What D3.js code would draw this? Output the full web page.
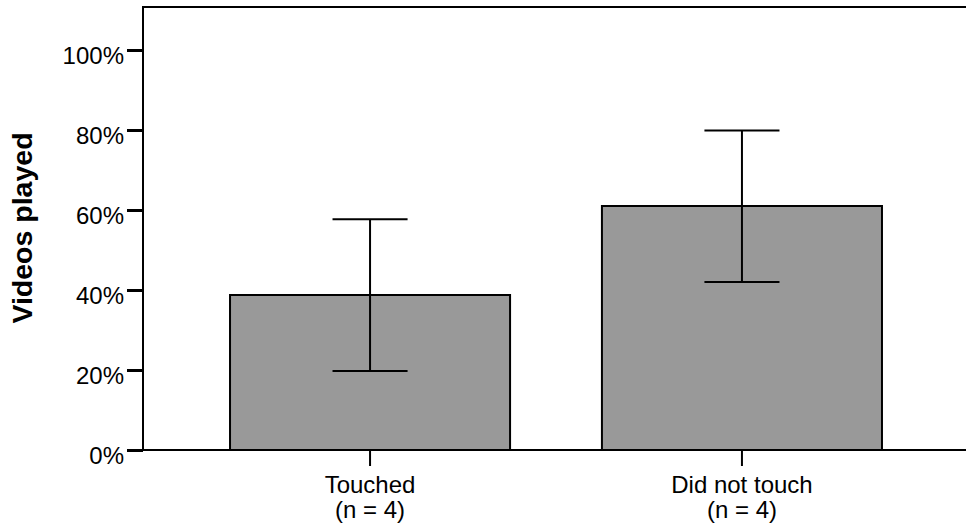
<!DOCTYPE html>
<html>
<head>
<meta charset="utf-8">
<script src="https://cdn.jsdelivr.net/npm/d3@7"></script>
<style>
  body { margin: 0; background: #fff; }
  svg { display: block; font-family: "Liberation Sans", Arial, sans-serif; }
</style>
</head>
<body>
<div class="chart"></div>
<script>
var width = 966;
var height = 526;

// data
var groups = ["Touched", "Did not touch"];
var groupN = ["(n = 4)", "(n = 4)"];
var meanPct = [38.75, 61.0];
var lowerPct = [19.75, 42.0];
var upperPct = [57.7, 79.9];
var yTicks = [0, 20, 40, 60, 80, 100];

var rows = groups.map(function(g, i){
  return {group: g, n: groupN[i], mean: meanPct[i], lo: lowerPct[i], hi: upperPct[i]};
});

var svg = d3.select(".chart").append("svg")
    .attr("width", width)
    .attr("height", height);

var x = d3.scaleBand()
    .domain(groups)
    .range([143, 969])
    .paddingInner(0.247)
    .paddingOuter(0.234);

var y = d3.scaleLinear()
    .domain([0, 100])
    .range([450, 50]);

var plotTop = 7;

// bars
svg.selectAll(".bar")
    .data(rows)
    .enter()
    .append("rect")
    .attr("class", "bar")
    .attr("x", function(d){ return x(d.group); })
    .attr("y", function(d){ return y(d.mean); })
    .attr("width", x.bandwidth())
    .attr("height", function(d){ return y(0) - y(d.mean); })
    .attr("fill", "#999999")
    .attr("stroke", "#000")
    .attr("stroke-width", 2);

// error bars
var capHalf = x.bandwidth() * 0.134;
var err = svg.selectAll(".err")
    .data(rows)
    .enter()
    .append("g")
    .attr("class", "err")
    .attr("stroke", "#000")
    .attr("stroke-width", 2);

err.append("line")
    .attr("x1", function(d){ return x(d.group) + x.bandwidth() / 2; })
    .attr("x2", function(d){ return x(d.group) + x.bandwidth() / 2; })
    .attr("y1", function(d){ return y(d.lo); })
    .attr("y2", function(d){ return y(d.hi); });
err.append("line")
    .attr("x1", function(d){ return x(d.group) + x.bandwidth() / 2 - capHalf; })
    .attr("x2", function(d){ return x(d.group) + x.bandwidth() / 2 + capHalf; })
    .attr("y1", function(d){ return y(d.hi); })
    .attr("y2", function(d){ return y(d.hi); });
err.append("line")
    .attr("x1", function(d){ return x(d.group) + x.bandwidth() / 2 - capHalf; })
    .attr("x2", function(d){ return x(d.group) + x.bandwidth() / 2 + capHalf; })
    .attr("y1", function(d){ return y(d.lo); })
    .attr("y2", function(d){ return y(d.lo); });

// y axis
var yAxis = svg.append("g")
    .attr("transform", "translate(143,0)")
    .call(d3.axisLeft(y).tickValues(yTicks).tickSize(16).tickPadding(3)
          .tickFormat(function(d){ return d + "%"; }));
yAxis.select(".domain").remove();
yAxis.selectAll(".tick line").attr("stroke", "#000").attr("stroke-width", 3);
yAxis.selectAll(".tick text")
    .attr("font-size", 24)
    .attr("fill", "#000")
    .attr("dy", null)
    .attr("y", 13.5)
    .attr("font-family", "Liberation Sans, Arial, sans-serif");

// x axis
var xAxis = svg.append("g")
    .attr("transform", "translate(0,450)")
    .call(d3.axisBottom(x).tickSize(16).tickFormat(""));
xAxis.select(".domain").remove();
xAxis.selectAll(".tick line").attr("stroke", "#000").attr("stroke-width", 2);
xAxis.selectAll(".tick").each(function(d, i){
  var t = d3.select(this).append("text")
      .attr("fill", "#000")
      .attr("font-size", 24)
      .attr("text-anchor", "middle")
      .attr("font-family", "Liberation Sans, Arial, sans-serif");
  t.append("tspan").attr("x", 0).attr("y", 43).text(d);
  t.append("tspan").attr("x", 0).attr("y", 68).text(groupN[i]);
});

// frame lines: left, top, bottom
svg.append("line")
    .attr("x1", 143).attr("x2", 143)
    .attr("y1", plotTop).attr("y2", y(0) + 1)
    .attr("stroke", "#000").attr("stroke-width", 2);
svg.append("line")
    .attr("x1", 142).attr("x2", width)
    .attr("y1", plotTop).attr("y2", plotTop)
    .attr("stroke", "#000").attr("stroke-width", 2);
svg.append("line")
    .attr("x1", 142).attr("x2", width)
    .attr("y1", y(0)).attr("y2", y(0))
    .attr("stroke", "#000").attr("stroke-width", 2);

// y label
svg.append("text")
    .attr("transform", "translate(32,228) rotate(-90)")
    .attr("text-anchor", "middle")
    .attr("font-size", 28.5)
    .attr("font-weight", "bold")
    .attr("fill", "#000")
    .text("Videos played");
</script>
</body>
</html>
